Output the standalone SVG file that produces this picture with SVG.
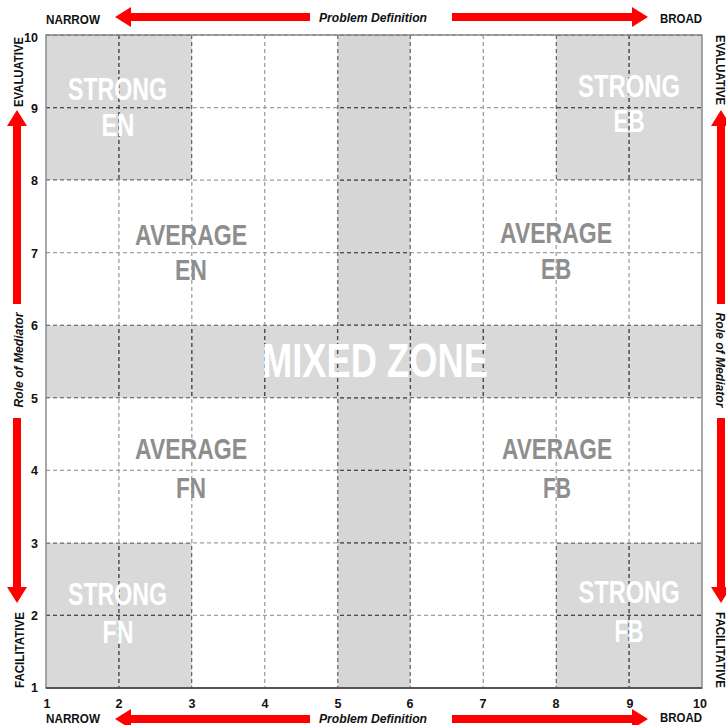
<svg xmlns="http://www.w3.org/2000/svg" xmlns:xlink="http://www.w3.org/1999/xlink" width="726" height="725" viewBox="0 0 726 725">
<style>
.shade{fill:#d9d9d9}
.band{fill:#d6d6d6}
.big{font-family:"Liberation Sans","DejaVu Sans",Arial,sans-serif;font-weight:bold;text-anchor:middle}
.strong{fill:#ffffff;font-size:32px}
.avg{fill:#8e8e8e;font-size:30px}
.mixed{fill:#ffffff;font-size:48px}
.num{font-family:"Liberation Sans","DejaVu Sans",Arial,sans-serif;font-weight:bold;font-size:12.5px;fill:#111}
.ax{font-family:"Liberation Sans","DejaVu Sans",Arial,sans-serif;font-weight:bold;font-size:12px;fill:#111}
.it{font-style:italic}
.arrow{fill:#ff0000}
</style>
<defs>
<g id="gridlines" fill="none" stroke-width="1.3" stroke-dasharray="4 3">
<line x1="118.9" y1="35" x2="118.9" y2="688"/>
<line x1="191.8" y1="35" x2="191.8" y2="688"/>
<line x1="264.7" y1="35" x2="264.7" y2="688"/>
<line x1="337.6" y1="35" x2="337.6" y2="688"/>
<line x1="410.4" y1="35" x2="410.4" y2="688"/>
<line x1="483.3" y1="35" x2="483.3" y2="688"/>
<line x1="556.2" y1="35" x2="556.2" y2="688"/>
<line x1="629.1" y1="35" x2="629.1" y2="688"/>
<line x1="46" y1="615.4" x2="702" y2="615.4"/>
<line x1="46" y1="542.9" x2="702" y2="542.9"/>
<line x1="46" y1="470.3" x2="702" y2="470.3"/>
<line x1="46" y1="397.8" x2="702" y2="397.8"/>
<line x1="46" y1="325.2" x2="702" y2="325.2"/>
<line x1="46" y1="252.6" x2="702" y2="252.6"/>
<line x1="46" y1="180.1" x2="702" y2="180.1"/>
<line x1="46" y1="107.6" x2="702" y2="107.6"/>
<line x1="46" y1="35" x2="702" y2="35"/>
</g>
<clipPath id="shadeClip">
<rect x="46" y="35" width="145.8" height="145.1"/>
<rect x="556.2" y="35" width="145.8" height="145.1"/>
<rect x="46" y="542.9" width="145.8" height="145.1"/>
<rect x="556.2" y="542.9" width="145.8" height="145.1"/>
<rect x="337.6" y="35" width="72.8" height="653"/>
<rect x="46" y="325.2" width="656" height="72.6"/>
</clipPath>
</defs>

<g id="background">
<rect width="726" height="725" fill="#ffffff"/>
</g>

<g id="zones">
<rect id="band-vertical" class="band" x="337.6" y="35" width="72.8" height="653"/>
<rect id="band-horizontal" class="shade" x="46" y="325.2" width="656" height="72.6"/>
<rect id="zone-strong-en" class="shade" x="46" y="35" width="145.8" height="145.1"/>
<rect id="zone-strong-eb" class="shade" x="556.2" y="35" width="145.8" height="145.1"/>
<rect id="zone-strong-fn" class="shade" x="46" y="542.9" width="145.8" height="145.1"/>
<rect id="zone-strong-fb" class="shade" x="556.2" y="542.9" width="145.8" height="145.1"/>
</g>

<g id="grid">
<use xlink:href="#gridlines" stroke="#a0a0a0"/>
<use xlink:href="#gridlines" stroke="#4a4a4a" clip-path="url(#shadeClip)"/>
<rect x="46" y="35" width="656" height="653" fill="none" stroke="#8a8a8a" stroke-width="1.5"/>
<line x1="46" y1="688" x2="702" y2="688" stroke="#555" stroke-width="1.8"/>
</g>

<g id="strong-en">
<text class="big strong" x="117.5" y="100" textLength="99" lengthAdjust="spacingAndGlyphs">STRONG</text>
<text class="big strong" x="118" y="136" textLength="33" lengthAdjust="spacingAndGlyphs">EN</text>
</g>
<g id="strong-eb">
<text class="big strong" x="629" y="97" textLength="102" lengthAdjust="spacingAndGlyphs">STRONG</text>
<text class="big strong" x="629" y="132" textLength="31" lengthAdjust="spacingAndGlyphs">EB</text>
</g>
<g id="strong-fn">
<text class="big strong" x="117.5" y="605" textLength="99" lengthAdjust="spacingAndGlyphs">STRONG</text>
<text class="big strong" x="118" y="643" textLength="31" lengthAdjust="spacingAndGlyphs">FN</text>
</g>
<g id="strong-fb">
<text class="big strong" x="629" y="603" textLength="101" lengthAdjust="spacingAndGlyphs">STRONG</text>
<text class="big strong" x="629" y="642" textLength="29" lengthAdjust="spacingAndGlyphs">FB</text>
</g>
<g id="average-en">
<text class="big avg" x="191" y="245" textLength="112" lengthAdjust="spacingAndGlyphs">AVERAGE</text>
<text class="big avg" x="191" y="280" textLength="32" lengthAdjust="spacingAndGlyphs">EN</text>
</g>
<g id="average-eb">
<text class="big avg" x="556" y="243" textLength="112" lengthAdjust="spacingAndGlyphs">AVERAGE</text>
<text class="big avg" x="556" y="279" textLength="30" lengthAdjust="spacingAndGlyphs">EB</text>
</g>
<g id="average-fn">
<text class="big avg" x="191" y="459" textLength="112" lengthAdjust="spacingAndGlyphs">AVERAGE</text>
<text class="big avg" x="191" y="498" textLength="30" lengthAdjust="spacingAndGlyphs">FN</text>
</g>
<g id="average-fb">
<text class="big avg" x="557" y="459" textLength="110" lengthAdjust="spacingAndGlyphs">AVERAGE</text>
<text class="big avg" x="557" y="498" textLength="28" lengthAdjust="spacingAndGlyphs">FB</text>
</g>
<g id="mixed-zone">
<text class="big mixed" x="375" y="377" textLength="226" lengthAdjust="spacingAndGlyphs">MIXED ZONE</text>
</g>

<g id="y-numbers" class="num" text-anchor="end">
<text x="38" y="42">10</text>
<text x="38" y="113">9</text>
<text x="38" y="185">8</text>
<text x="38" y="258">7</text>
<text x="38" y="330">6</text>
<text x="38" y="403">5</text>
<text x="38" y="475">4</text>
<text x="38" y="548">3</text>
<text x="38" y="620">2</text>
<text x="38" y="692">1</text>
</g>
<g id="x-numbers" class="num" text-anchor="middle">
<text x="47" y="708">1</text>
<text x="119" y="708">2</text>
<text x="192" y="708">3</text>
<text x="265" y="708">4</text>
<text x="338" y="708">5</text>
<text x="410" y="708">6</text>
<text x="483" y="708">7</text>
<text x="556" y="708">8</text>
<text x="630" y="708">9</text>
<text x="700" y="708">10</text>
</g>

<g id="axis-labels">
<text class="ax" x="46" y="24" textLength="54" lengthAdjust="spacingAndGlyphs">NARROW</text>
<text class="ax it" x="373" y="22" text-anchor="middle" textLength="108" lengthAdjust="spacingAndGlyphs">Problem Definition</text>
<text class="ax" x="702" y="23" text-anchor="end" textLength="42" lengthAdjust="spacingAndGlyphs">BROAD</text>
<text class="ax" x="46" y="723" textLength="54" lengthAdjust="spacingAndGlyphs">NARROW</text>
<text class="ax it" x="373" y="723" text-anchor="middle" textLength="108" lengthAdjust="spacingAndGlyphs">Problem Definition</text>
<text class="ax" x="702" y="722" text-anchor="end" textLength="42" lengthAdjust="spacingAndGlyphs">BROAD</text>
<text class="ax" transform="translate(23,107) rotate(-90)" textLength="70" lengthAdjust="spacingAndGlyphs">EVALUATIVE</text>
<text class="ax it" transform="translate(23,360) rotate(-90)" text-anchor="middle" textLength="95" lengthAdjust="spacingAndGlyphs">Role of Mediator</text>
<text class="ax" transform="translate(24,688) rotate(-90)" textLength="76" lengthAdjust="spacingAndGlyphs">FACILITATIVE</text>
<text class="ax" transform="translate(716,35) rotate(90)" textLength="70" lengthAdjust="spacingAndGlyphs">EVALUATIVE</text>
<text class="ax it" transform="translate(716,360) rotate(90)" text-anchor="middle" textLength="95" lengthAdjust="spacingAndGlyphs">Role of Mediator</text>
<text class="ax" transform="translate(716,612) rotate(90)" textLength="76" lengthAdjust="spacingAndGlyphs">FACILITATIVE</text>
</g>

<g id="connectors">
<path class="arrow" d="M115,17 L131,7 L131,13 L310,13 L310,21 L131,21 L131,27 Z"/>
<path class="arrow" d="M648,17 L632,7 L632,13 L452,13 L452,21 L632,21 L632,27 Z"/>
<path class="arrow" d="M115,719 L131,709 L131,715 L310,715 L310,723 L131,723 L131,729 Z"/>
<path class="arrow" d="M648,719 L632,709 L632,715 L452,715 L452,723 L632,723 L632,729 Z"/>
<path class="arrow" d="M17,110 L7,126 L13,126 L13,304 L21,304 L21,126 L27,126 Z"/>
<path class="arrow" d="M17,603 L7,587 L13,587 L13,418 L21,418 L21,587 L27,587 Z"/>
<path class="arrow" d="M721,110 L711,126 L717,126 L717,304 L725,304 L725,126 L731,126 Z"/>
<path class="arrow" d="M721,603 L711,587 L717,587 L717,418 L725,418 L725,587 L731,587 Z"/>
</g>
</svg>
